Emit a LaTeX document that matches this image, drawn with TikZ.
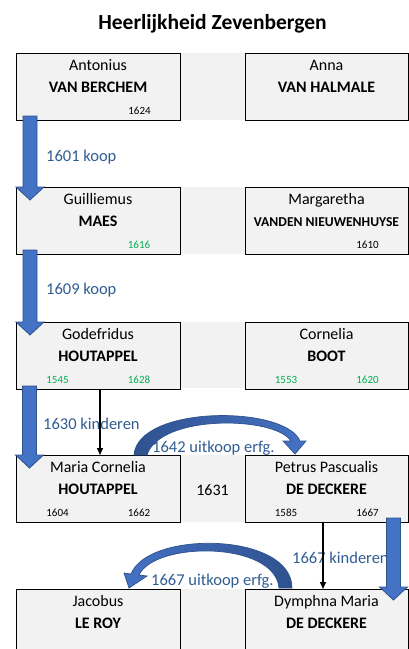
\documentclass[tikz,border=0pt]{standalone}
\usepackage{fontspec}
\setmainfont{Carlito}
\usetikzlibrary{calc,arrows.meta}
\definecolor{boxgray}{HTML}{F2F2F2}
\definecolor{lblblue}{HTML}{2F5D92}
\definecolor{yrgreen}{HTML}{00B050}
\definecolor{arrfill}{HTML}{4472C4}
\definecolor{arrdark}{HTML}{2F528F}
\newcommand\blockdown[2]{%
  \draw[barrow] let \p1=(#1), \p2=(#2) in
    (\x1-7pt,\y1) -- (\x1+7pt,\y1) -- (\x1+7pt,\y2+13pt) -- (\x1+14pt,\y2+13pt)
    -- (\x1,\y2) -- (\x1-14pt,\y2+13pt) -- (\x1-7pt,\y2+13pt) -- cycle;}
\begin{document}
\begin{tikzpicture}[x=1pt,y=-1pt,
  pboxl/.style={draw=black,line width=0.9pt,fill=boxgray,minimum width=164pt,minimum height=67pt,inner sep=0pt,outer sep=0pt,anchor=north west},
  pboxr/.style={pboxl,minimum width=163pt},
  band/.style={fill=boxgray},
  fn/.style={font=\fontsize{16}{16}\selectfont,anchor=base,inner sep=0pt},
  ln/.style={font=\bfseries\fontsize{16}{16}\selectfont,anchor=base,inner sep=0pt},
  lnsmall/.style={font=\bfseries\fontsize{13.6}{14}\selectfont,anchor=base,inner sep=0pt},
  yr/.style={font=\fontsize{11}{11}\selectfont,anchor=base,inner sep=0pt},
  yrg/.style={yr,text=yrgreen},
  lbl/.style={font=\fontsize{16.5}{16.5}\selectfont,text=lblblue,anchor=base west,inner sep=0pt},
  barrow/.style={fill=arrfill,draw=arrdark,line width=0.8pt,line join=miter},
  blk/.style={draw=black,line width=1.4pt,-{Triangle[width=6pt,length=7pt]}},
  carrow/.style={draw=arrdark,line width=0.7pt,line join=miter}
]
\useasboundingbox (0,0) rectangle (409,649);
\clip (0,0) rectangle (409,649);

% title
\node[font=\bfseries\fontsize{21.5}{22}\selectfont,anchor=base,inner sep=0pt] (title) at (212.5,29.3) {Heerlijkheid Zevenbergen};

% gray bands between boxes
\fill[band] (180,53) rectangle (245,120);
\fill[band] (180,187) rectangle (245,254);
\fill[band] (180,322) rectangle (245,388);
\fill[band] (180,455) rectangle (245,522);
\fill[band] (180,589) rectangle (245,660);

% boxes
\node[pboxl] (A) at (16,53) {};
\node[pboxr] (B) at (245,53) {};
\node[pboxl] (G) at (16,187) {};
\node[pboxr] (M) at (245,187) {};
\node[pboxl] (H) at (16,322) {};
\node[pboxr] (C) at (245,322) {};
\node[pboxl] (MC) at (16,455) {};
\node[pboxr] (P) at (245,455) {};
\node[pboxl] (J) at (16,589) {};
\node[pboxr] (D) at (245,589) {};

% texts row 1
\node[fn] (A1) at ($(A.north)+(0,17.5)$) {Antonius};
\node[ln] (A2) at ($(A.north)+(0,39.7)$) {VAN BERCHEM};
\node[yr] (A3) at ($(A.north west)+(123.5,61)$) {1624};
\node[fn] (B1) at ($(B.north)+(0,17.5)$) {Anna};
\node[ln] (B2) at ($(B.north)+(0,39.7)$) {VAN HALMALE};
% row 2
\node[fn] (G1) at ($(G.north)+(0,17.5)$) {Guilliemus};
\node[ln] (G2) at ($(G.north)+(0,39.7)$) {MAES};
\node[yrg] (G3) at ($(G.north west)+(123,61)$) {1616};
\node[fn] (M1) at ($(M.north)+(0,17.5)$) {Margaretha};
\node[lnsmall] (M2) at ($(M.north)+(0,39.5)$) {VANDEN NIEUWENHUYSE};
\node[yr] (M3) at ($(M.north west)+(122.5,61)$) {1610};
% row 3
\node[fn] (H1) at ($(H.north)+(0,17.5)$) {Godefridus};
\node[ln] (H2) at ($(H.north)+(0,39.7)$) {HOUTAPPEL};
\node[yrg] (H3) at ($(H.north west)+(41.5,61)$) {1545};
\node[yrg] (H4) at ($(H.north west)+(123,61)$) {1628};
\node[fn] (C1) at ($(C.north)+(0,17.5)$) {Cornelia};
\node[ln] (C2) at ($(C.north)+(0,39.7)$) {BOOT};
\node[yrg] (C3) at ($(C.north west)+(41,61)$) {1553};
\node[yrg] (C4) at ($(C.north west)+(122.5,61)$) {1620};
% row 4
\node[fn] (MC1) at ($(MC.north)+(0,17.5)$) {Maria Cornelia};
\node[ln] (MC2) at ($(MC.north)+(0,39.7)$) {HOUTAPPEL};
\node[yr] (MC3) at ($(MC.north west)+(41.5,61)$) {1604};
\node[yr] (MC4) at ($(MC.north west)+(123,61)$) {1662};
\node[fn] (P1) at ($(P.north)+(0,17.5)$) {Petrus Pascualis};
\node[ln] (P2) at ($(P.north)+(0,39.7)$) {DE DECKERE};
\node[yr] (P3) at ($(P.north west)+(41,61)$) {1585};
\node[yr] (P4) at ($(P.north west)+(122.5,61)$) {1667};
\node[fn] (wed) at (212.5,495) {1631};
% row 5
\node[fn] (J1) at ($(J.north)+(0,17.5)$) {Jacobus};
\node[ln] (J2) at ($(J.north)+(0,39.7)$) {LE ROY};
\node[fn] (D1) at ($(D.north)+(0,17.5)$) {Dymphna Maria};
\node[ln] (D2) at ($(D.north)+(0,39.7)$) {DE DECKERE};

% labels
\node[lbl] (L1) at (46,161.5) {1601 koop};
\node[lbl] (L2) at (46,294.5) {1609 koop};
\node[lbl] (L3) at (43,429.5) {1630 kinderen};
\node[lbl] (L4) at (152,452) {1642 uitkoop erfg.};
\node[lbl] (L5) at (292,563) {1667 kinderen};
\node[lbl] (L6) at (151,585) {1667 uitkoop erfg.};

% block arrows
\coordinate (s1) at ($(A.south west)+(14,-4)$);
\coordinate (e1) at ($(G.north west)+(14,13)$);
\blockdown{s1}{e1}
\coordinate (s2) at ($(G.south west)+(14,-4)$);
\coordinate (e2) at ($(H.north west)+(14,13)$);
\blockdown{s2}{e2}
\coordinate (s3) at ($(H.south west)+(13.5,-3)$);
\coordinate (e3) at ($(MC.north west)+(13.5,13)$);
\blockdown{s3}{e3}
\coordinate (s4) at ($(P.south east)+(-14.5,-4)$);
\coordinate (e4) at ($(D.north east)+(-14.5,11)$);
\blockdown{s4}{e4}

% black child arrows
\draw[blk] ($(H.south)+(2,0)$) -- ($(MC.north)+(2,0)$);
\draw[blk] ($(P.south)+(-3.5,0)$) -- ($(D.north)+(-3.5,0)$);

% curved arrows
\path[carrow,left color=arrdark,right color=arrfill]
  (134,455) .. controls (138,405) and (285,405) .. (300,441)
  -- (306,441) -- (295,454) -- (283,441) -- (291,441)
  .. controls (275,416) and (160,414) .. (147,455) -- cycle;
\path[carrow,right color=arrdark,left color=arrfill]
  (292,588) .. controls (292,532) and (148,530) .. (131,574)
  -- (124,573) -- (129,588) -- (147,576) -- (139,575)
  .. controls (155,541) and (275,541) .. (279,588) -- cycle;
\end{tikzpicture}
\end{document}
